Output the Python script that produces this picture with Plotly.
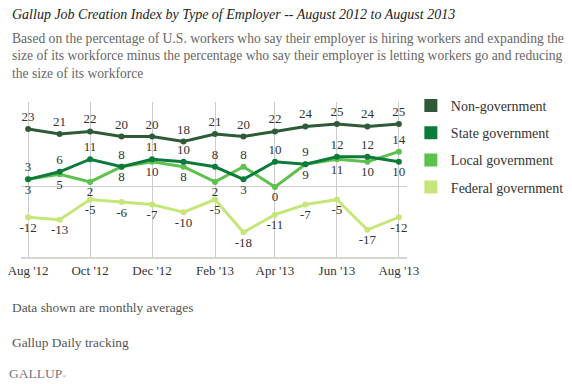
import plotly.graph_objects as go

months = ["2012-08-01", "2012-09-01", "2012-10-01", "2012-11-01", "2012-12-01", "2013-01-01",
          "2013-02-01", "2013-03-01", "2013-04-01", "2013-05-01", "2013-06-01", "2013-07-01", "2013-08-01"]
non_government = [23, 21, 22, 20, 20, 18, 21, 20, 22, 24, 25, 24, 25]
state_government = [3, 6, 11, 8, 11, 10, 8, 3, 10, 9, 12, 12, 10]
local_government = [3, 5, 2, 8, 10, 8, 2, 8, 0, 9, 11, 10, 14]
federal_government = [-12, -13, -5, -6, -7, -10, -5, -18, -11, -7, -5, -17, -12]
tick_vals = ["2012-08-01", "2012-10-01", "2012-12-01", "2013-02-01", "2013-04-01", "2013-06-01", "2013-08-01"]
tick_text = ["Aug '12", "Oct '12", "Dec '12", "Feb '13", "Apr '13", "Jun '13", "Aug '13"]

FONT = "Liberation Serif"
colors = {"Non-government": "#2e5a37", "State government": "#0b7a3b",
          "Local government": "#5ec04f", "Federal government": "#c6e67a"}

state_pos = ["top center" if s >= l else "bottom center" for s, l in zip(state_government, local_government)]
local_pos = ["top center" if l > s else "bottom center" for s, l in zip(state_government, local_government)]

series = [
    ("Federal government", federal_government, ["bottom center"] * len(months)),
    ("Local government", local_government, local_pos),
    ("State government", state_government, state_pos),
    ("Non-government", non_government, ["top center"] * len(months)),
]

fig = go.Figure()
for name, vals, pos in series:
    fig.add_trace(go.Scatter(
        x=months, y=vals, mode="lines+markers+text", name=name,
        line=dict(color=colors[name], width=3), marker=dict(color=colors[name], size=6),
        text=[str(v) for v in vals], textposition=pos,
        textfont=dict(family=FONT, size=13, color="#333"),
        showlegend=False, cliponaxis=False, hoverinfo="skip"))

for i, name in enumerate(["Non-government", "State government", "Local government", "Federal government"]):
    fig.add_trace(go.Scatter(
        x=[None], y=[None], mode="markers", name=name, legendgroup=name, legendrank=i,
        marker=dict(symbol="square", size=13, color=colors[name])))

fig.update_layout(
    width=572, height=384,
    margin=dict(l=21, r=165, t=102, b=127, autoexpand=False),
    paper_bgcolor="white", plot_bgcolor="white",
    font=dict(family=FONT, color="#333", size=13),
    xaxis=dict(type="date", range=["2012-07-25", "2013-08-09"], tickvals=tick_vals, ticktext=tick_text,
               showgrid=True, gridcolor="#cccccc", gridwidth=1, showline=True, linecolor="#d6d6ce",
               linewidth=2, ticks="", tickfont=dict(family=FONT, size=13, color="#333")),
    yaxis=dict(range=[-27.8, 33.7], showgrid=False, zeroline=True, zerolinecolor="#cccccc",
               zerolinewidth=1, showticklabels=False, ticks=""),
    legend=dict(x=1.01, xanchor="left", y=1.078, yanchor="top", font=dict(family=FONT, size=14, color="#333"),
                tracegroupgap=6, bgcolor="rgba(0,0,0,0)", itemclick=False),
    showlegend=True,
)

annots = [
    dict(text="<i>Gallup Job Creation Index by Type of Employer -- August 2012 to August 2013</i>",
         x=10, y=14, size=14, color="#222"),
    dict(text="Based on the percentage of U.S. workers who say their employer is hiring workers and expanding the",
         x=10, y=38, size=13.6, color="#666"),
    dict(text="size of its workforce minus the percentage who say their employer is letting workers go and reducing",
         x=10, y=56, size=13.6, color="#666"),
    dict(text="the size of its workforce", x=10, y=73, size=13.6, color="#666"),
    dict(text="Data shown are monthly averages", x=10, y=307, size=13.4, color="#555"),
    dict(text="Gallup Daily tracking", x=10, y=342, size=13.4, color="#555"),
    dict(text="GALLUP<span style='font-size:5px'>®</span>", x=7, y=373, size=13.5, color="#777"),
]
for a in annots:
    fig.add_annotation(text=a["text"], xref="paper", yref="paper", x=(a["x"] - 21) / 386,
                       y=(257 - a["y"]) / 155, xanchor="left", yanchor="middle", showarrow=False,
                       font=dict(family=FONT, size=a["size"], color=a["color"]))

fig.write_html("out.html", config={"displayModeBar": False},
               post_script="document.body.style.margin='0';")
